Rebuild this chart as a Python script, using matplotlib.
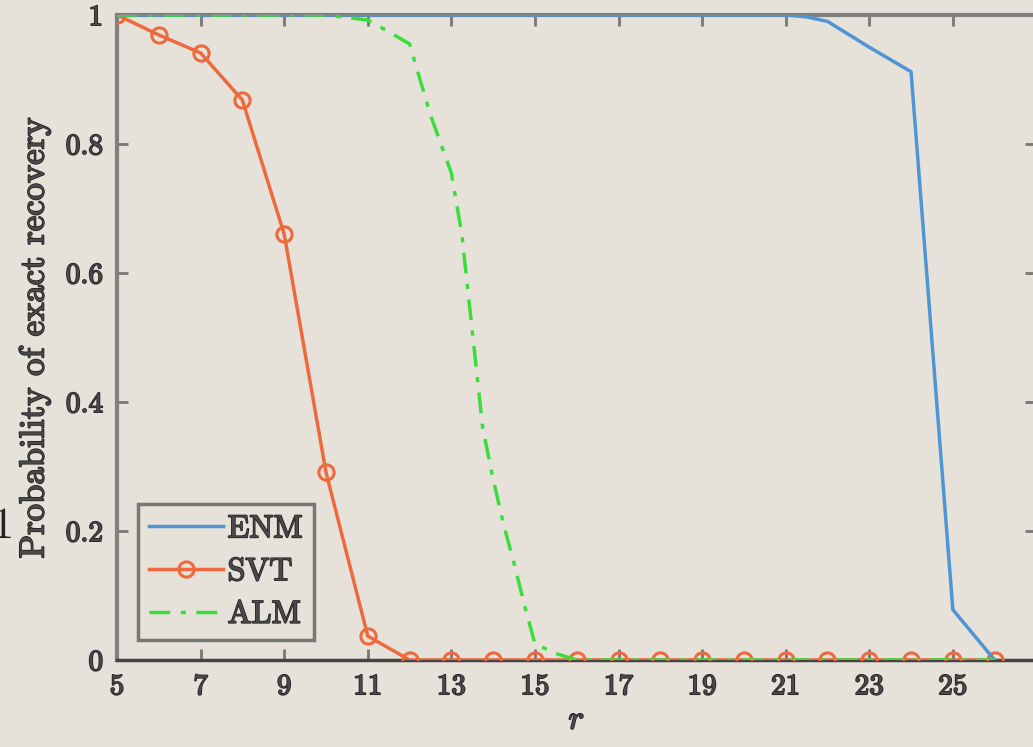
import matplotlib
matplotlib.use("Agg")
import matplotlib.pyplot as plt
import matplotlib.patheffects as pe

plt.rcParams["font.family"] = ["cmr10", "DejaVu Serif"]
plt.rcParams["mathtext.fontset"] = "cm"
plt.rcParams["axes.formatter.use_mathtext"] = True

# data
enm_r = [5, 6, 7, 8, 9, 10, 11, 12, 13, 14, 15, 16, 17, 18, 19, 20, 21, 21.5, 22, 23, 24, 25, 26]
enm_p = [1, 1, 1, 1, 1, 1, 1, 1, 1, 1, 1, 1, 1, 1, 1, 1, 1, 0.997, 0.99, 0.95, 0.912, 0.078, 0.0]

svt_r = list(range(5, 27))
svt_p = [1.0, 0.969, 0.941, 0.868, 0.66, 0.291, 0.037] + [0.0] * 15

alm_r = [5, 6, 7, 8, 9, 10, 11, 11.5, 12, 12.25, 12.5, 12.75, 13, 13.25, 13.5, 13.75,
         14, 14.25, 14.5, 14.75, 15, 15.5, 16, 17, 18, 19, 20, 21, 22, 23, 24, 25, 26]
alm_p = [1, 1, 1, 1, 1, 1, 0.992, 0.974, 0.955, 0.90, 0.845, 0.80, 0.755, 0.66, 0.51, 0.36,
         0.28, 0.21, 0.15, 0.085, 0.025, 0.01, 0.0, 0, 0, 0, 0, 0, 0, 0, 0, 0, 0]

xticks = [5, 7, 9, 11, 13, 15, 17, 19, 21, 23, 25]
yticks = [0, 0.2, 0.4, 0.6, 0.8, 1]
ytick_labels = ["0", "0.2", "0.4", "0.6", "0.8", "1"]

bg = "#e6e2d9"
ink = "#4a4a4a"
stroke = [pe.withStroke(linewidth=1.2, foreground="#222222")]

fig = plt.figure(figsize=(10.33, 7.47), dpi=100, facecolor=bg)
ax = fig.add_axes([0.1133, 0.1165, 0.890, 0.8635])
ax.set_facecolor(bg)

ax.plot(enm_r, enm_p, color="#4f94d4", lw=2.5, label="ENM", zorder=4)
ax.plot(svt_r, svt_p, color="#ee6a3e", lw=2.5, marker="o", ms=11, mfc="none",
        mew=2.2, label="SVT", zorder=3)
ax.plot(alm_r, alm_p, color="#3ddc3d", lw=2.5, ls=(0, (6, 3, 1.5, 3)), label="ALM", zorder=5)

ax.set_xlim(5, 27)
ax.set_ylim(0, 1)
ax.set_xticks(xticks)
ax.set_xticklabels([str(t) for t in xticks])
ax.set_yticks(yticks)
ax.set_yticklabels(ytick_labels)
ax.tick_params(direction="in", length=8, width=2, colors="#777777", top=True, right=True,
               labelsize=21, labelcolor=ink, pad=10)
for lab in ax.get_xticklabels() + ax.get_yticklabels():
    lab.set_path_effects(stroke)

for side in ["left", "right", "top"]:
    ax.spines[side].set_color("#808080")
    ax.spines[side].set_linewidth(3)
ax.spines["bottom"].set_color("#444444")
ax.spines["bottom"].set_linewidth(2.5)

ax.set_xlabel("$r$", fontsize=24, color=ink, labelpad=4, path_effects=stroke)
ax.set_ylabel("Probability of exact recovery", fontsize=25, color=ink, labelpad=11,
              path_effects=stroke)

leg = ax.legend(loc="lower left", bbox_to_anchor=(0.023, 0.031), borderaxespad=0,
                fontsize=23, fancybox=False, framealpha=1, facecolor=bg, edgecolor="#777777",
                handlelength=2.3, borderpad=0.35, labelspacing=0.45, handletextpad=0.15)
leg.get_frame().set_linewidth(2.5)
for t in leg.get_texts():
    t.set_color(ink)
    t.set_path_effects(stroke)

fig.text(-0.009, 0.295, "1", fontsize=32, color="#222222", ha="left", va="center")

fig.savefig("out.png", dpi=100, facecolor=bg)
